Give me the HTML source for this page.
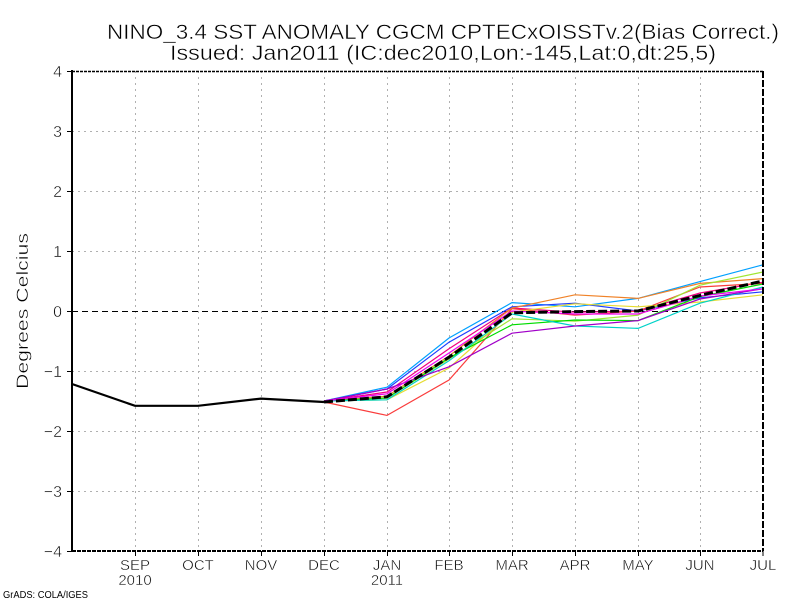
<!DOCTYPE html>
<html><head><meta charset="utf-8"><style>
html,body{margin:0;padding:0;background:#fff;}
svg{display:block;}
text{font-family:"Liberation Sans",sans-serif;fill:#000;stroke:#fff;stroke-width:0.45;}
</style></head><body>
<svg width="800" height="600" viewBox="0 0 800 600" xmlns="http://www.w3.org/2000/svg">
<rect width="800" height="600" fill="#fff"/>
<!-- titles -->
<text x="107" y="39" font-size="21.5" textLength="672" lengthAdjust="spacingAndGlyphs">NINO_3.4 SST ANOMALY CGCM CPTECxOISSTv.2(Bias Correct.)</text>
<text x="170" y="60" font-size="21.5" textLength="546" lengthAdjust="spacingAndGlyphs">Issued:  Jan2011 (IC:dec2010,Lon:-145,Lat:0,dt:25,5)</text>
<!-- grid -->
<g stroke="#b0b0b0" stroke-width="1" stroke-dasharray="2,4" fill="none">
<line x1="72" y1="131.5" x2="763" y2="131.5"/>
<line x1="72" y1="191.5" x2="763" y2="191.5"/>
<line x1="72" y1="251.5" x2="763" y2="251.5"/>
<line x1="72" y1="371.5" x2="763" y2="371.5"/>
<line x1="72" y1="431.5" x2="763" y2="431.5"/>
<line x1="72" y1="491.5" x2="763" y2="491.5"/>
<line x1="135.5" y1="71" x2="135.5" y2="551"/>
<line x1="198.5" y1="71" x2="198.5" y2="551"/>
<line x1="261.5" y1="71" x2="261.5" y2="551"/>
<line x1="324.5" y1="71" x2="324.5" y2="551"/>
<line x1="387.5" y1="71" x2="387.5" y2="551"/>
<line x1="449.5" y1="71" x2="449.5" y2="551"/>
<line x1="512.5" y1="71" x2="512.5" y2="551"/>
<line x1="575.5" y1="71" x2="575.5" y2="551"/>
<line x1="638.5" y1="71" x2="638.5" y2="551"/>
<line x1="700.5" y1="71" x2="700.5" y2="551"/>
</g>
<!-- zero line -->
<line x1="72" y1="311.5" x2="763" y2="311.5" stroke="#000" stroke-width="1" stroke-dasharray="6,4"/>
<!-- ensemble members -->
<g fill="none" stroke-width="1.2">
<polyline stroke="#00a0ff" points="324,401 387,387.2 449,338 512,302.6 575,306.8 638,298.4 700,281.6 763,264.8"/>
<polyline stroke="#1e3cff" points="324,401 387,389 449,342.2 512,306.8 575,303.2 638,311 700,297.8 763,291.8"/>
<polyline stroke="#f00082" points="324,401 387,392 449,348.8 512,308 575,312.2 638,311 700,293 763,282.2"/>
<polyline stroke="#fa3c3c" points="324,402 387,415.4 449,380 512,308.6 575,315.2 638,311 700,287 763,283.4"/>
<polyline stroke="#f08228" points="324,401 387,396.2 449,356 512,308 575,294.8 638,298.4 700,283.4 763,278.6"/>
<polyline stroke="#e6dc32" points="324,401 387,399.8 449,368 512,312.2 575,303.8 638,306.8 700,302 763,294.8"/>
<polyline stroke="#a0e632" points="324,401 387,398 449,359 512,318.8 575,321.2 638,315.2 700,285.2 763,272"/>
<polyline stroke="#00dc00" points="324,401 387,398 449,357.8 512,324.8 575,320 638,320.6 700,296.6 763,284"/>
<polyline stroke="#00d2c8" points="324,401 387,399.8 449,360.8 512,314 575,326 638,328.4 700,303.2 763,287"/>
<polyline stroke="#a000c8" points="324,401 387,389 449,366.8 512,333.2 575,326 638,320.6 700,299 763,288.8"/>
<polyline stroke="#f000f0" points="324,401 387,393.8 449,353 512,311 575,314 638,314 700,296 763,288.8"/>
</g>
<!-- observed history -->
<polyline fill="none" stroke="#000" stroke-width="2.2" points="72,384 135,405.8 198,405.8 261,398.6 324,402"/>
<!-- ensemble mean -->
<polyline fill="none" stroke="#000" stroke-width="3" stroke-dasharray="9,3" points="324,402 387,396.8 449,357.2 512,312.8 575,311.6 638,311 700,295.4 763,281"/>
<!-- axes -->
<line x1="72" y1="71.5" x2="763" y2="71.5" stroke="#000" stroke-width="1.5" stroke-dasharray="3,1"/>
<line x1="763" y1="71" x2="763" y2="551" stroke="#000" stroke-width="2" stroke-dasharray="7,2"/>
<line x1="72" y1="551" x2="763" y2="551" stroke="#000" stroke-width="2" stroke-dasharray="4,1"/>
<line x1="72" y1="70" x2="72" y2="552" stroke="#000" stroke-width="2"/>
<!-- ticks -->
<g stroke="#000" stroke-width="1">
<line x1="67" y1="71.5" x2="72" y2="71.5"/><line x1="67" y1="131.5" x2="72" y2="131.5"/>
<line x1="67" y1="191.5" x2="72" y2="191.5"/><line x1="67" y1="251.5" x2="72" y2="251.5"/>
<line x1="67" y1="311.5" x2="72" y2="311.5"/><line x1="67" y1="371.5" x2="72" y2="371.5"/>
<line x1="67" y1="431.5" x2="72" y2="431.5"/><line x1="67" y1="491.5" x2="72" y2="491.5"/>
<line x1="67" y1="551.5" x2="72" y2="551.5"/>
<line x1="135.5" y1="551" x2="135.5" y2="556"/><line x1="198.5" y1="551" x2="198.5" y2="556"/>
<line x1="261.5" y1="551" x2="261.5" y2="556"/><line x1="324.5" y1="551" x2="324.5" y2="556"/>
<line x1="387.5" y1="551" x2="387.5" y2="556"/><line x1="449.5" y1="551" x2="449.5" y2="556"/>
<line x1="512.5" y1="551" x2="512.5" y2="556"/><line x1="575.5" y1="551" x2="575.5" y2="556"/>
<line x1="638.5" y1="551" x2="638.5" y2="556"/><line x1="700.5" y1="551" x2="700.5" y2="556"/>
<line x1="763" y1="551" x2="763" y2="556"/>
</g>
<g font-size="16" text-anchor="end">
<text x="62" y="77">4</text>
<text x="62" y="137">3</text>
<text x="62" y="197">2</text>
<text x="62" y="257">1</text>
<text x="62" y="317">0</text>
<text x="62" y="377">−1</text>
<text x="62" y="437">−2</text>
<text x="62" y="497">−3</text>
<text x="62" y="557">−4</text>
</g>
<g font-size="15" text-anchor="middle">
<text x="135" y="570">SEP</text>
<text x="198" y="570">OCT</text>
<text x="261" y="570">NOV</text>
<text x="324" y="570">DEC</text>
<text x="387" y="570">JAN</text>
<text x="449" y="570">FEB</text>
<text x="512" y="570">MAR</text>
<text x="575" y="570">APR</text>
<text x="638" y="570">MAY</text>
<text x="700" y="570">JUN</text>
<text x="763" y="570">JUL</text>
<text x="135" y="585">2010</text>
<text x="387" y="585">2011</text>
</g>
<text transform="translate(28,311) rotate(-90)" font-size="17" text-anchor="middle" textLength="156" lengthAdjust="spacingAndGlyphs">Degrees  Celcius</text>
<text x="3" y="598" font-size="10" textLength="85" lengthAdjust="spacingAndGlyphs" style="stroke:none">GrADS: COLA/IGES</text>
</svg>
</body></html>
